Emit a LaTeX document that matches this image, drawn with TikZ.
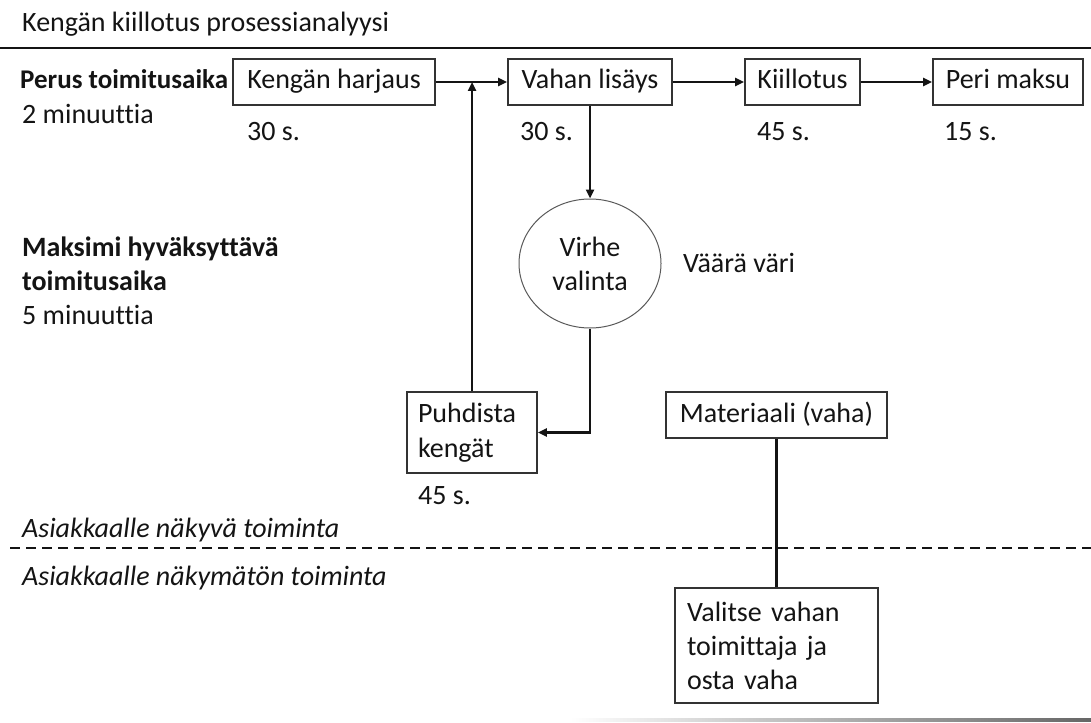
\documentclass[tikz,border=0pt]{standalone}
\usepackage{fontspec}
\setmainfont{Carlito}[Ligatures=NoCommon]
\usetikzlibrary{arrows.meta,shapes.geometric}

\begin{document}
\begin{tikzpicture}[x=1pt,y=-1pt,
  every node/.style={font=\fontsize{28}{34}\selectfont, text=black!92},
  box/.style={draw=black!80, line width=1.6pt, inner sep=0pt, fill=white},
  onebox/.style={box, text height=20pt, text depth=6pt, minimum height=46pt},
  flow/.style={line width=2.3pt, draw=black!92, -{Triangle[length=9pt,width=8pt]}},
  link/.style={line width=2.3pt, draw=black!92},
  lbl/.style={anchor=base west, inner sep=0pt},
  strong/.style={lbl, font=\fontsize{28}{34}\selectfont\bfseries},
  note/.style={lbl, font=\fontsize{28}{34}\selectfont\itshape},
]
\useasboundingbox (0,0) rectangle (1091,722);

% heading and rules
\node[lbl] (title) at (22,32) {Kengän kiillotus prosessianalyysi};
\coordinate (ruleL) at (0,48);
\coordinate (ruleR) at (1091,48);
\draw[line width=2.2pt, black!92] (ruleL) -- (ruleR);

% time budget texts
\node[strong, font=\fontsize{27}{34}\selectfont\bfseries] (basetime) at (20,89) {Perus toimitusaika};
\node[lbl] (basemin) at (22,124) {2 minuuttia};
\node[strong] (maxA) at (22,256) {Maksimi hyväksyttävä};
\node[strong] (maxB) at (22,290) {toimitusaika};
\node[lbl] (maxmin) at (22,324) {5 minuuttia};

% main process steps
\node[onebox, minimum width=202pt] (brush)  at (334,82)   {Kengän harjaus};
\node[onebox, minimum width=164pt] (wax)    at (590,82)   {Vahan lisäys};
\node[onebox, minimum width=115pt] (polish) at (802.5,82) {Kiillotus};
\node[onebox, minimum width=150pt] (pay)    at (1008,82)  {Peri maksu};

% step durations
\node[lbl] (tbrush)  at (247,141) {30 s.};
\node[lbl] (twax)    at (520,141) {30 s.};
\node[lbl] (tpolish) at (757,141) {45 s.};
\node[lbl] (tpay)    at (944,141) {15 s.};

% failure point and recovery
\node[draw=black!65, line width=1pt, ellipse, minimum width=142pt,
      minimum height=129pt, inner sep=0pt, align=center] (err) at (590,263.5) {Virhe\\valinta};
\node[lbl] (errnote) at (683,272) {Väärä väri};
\node[box, align=left, text width=108pt, minimum width=130pt, minimum height=81pt,
      font=\fontsize{28}{35}\selectfont] (clean) at (472,432.5) {Puhdista\\kengät};
\node[lbl] (tclean) at (418,504) {45 s.};

% material and supplier
\node[onebox, minimum width=221pt] (mat) at (776.5,415) {Materiaali (vaha)};
\node[box, align=left, text width=179pt, minimum width=203pt, minimum height=115pt]
      (supplier) at (776.5,645.5) {Valitse vahan\\toimittaja ja\\osta vaha};

% line of visibility
\node[note] (visible) at (22,537) {Asiakkaalle näkyvä toiminta};
\node[note] (hidden)  at (22,585) {Asiakkaalle näkymätön toiminta};
\coordinate (visL) at (10,548);
\coordinate (visR) at (1091,548);
\draw[line width=2.4pt, black!92, dash pattern=on 10pt off 6pt] (visL) -- (visR);

% connectors
\draw[flow] (brush) -- (wax);
\draw[flow] (wax) -- (polish);
\draw[flow] (polish) -- (pay);
\draw[flow] (wax) -- (err);
\draw[flow] (err.south) |- (clean.east);
\draw[flow] (clean.north) -- (clean.north |- brush.east);
\draw[link] (mat) -- (supplier);

% faint edge line along the foot
\shade[left color=white, right color=black!60] (570,718.5) rectangle (1091,721.5);
\end{tikzpicture}
\end{document}
